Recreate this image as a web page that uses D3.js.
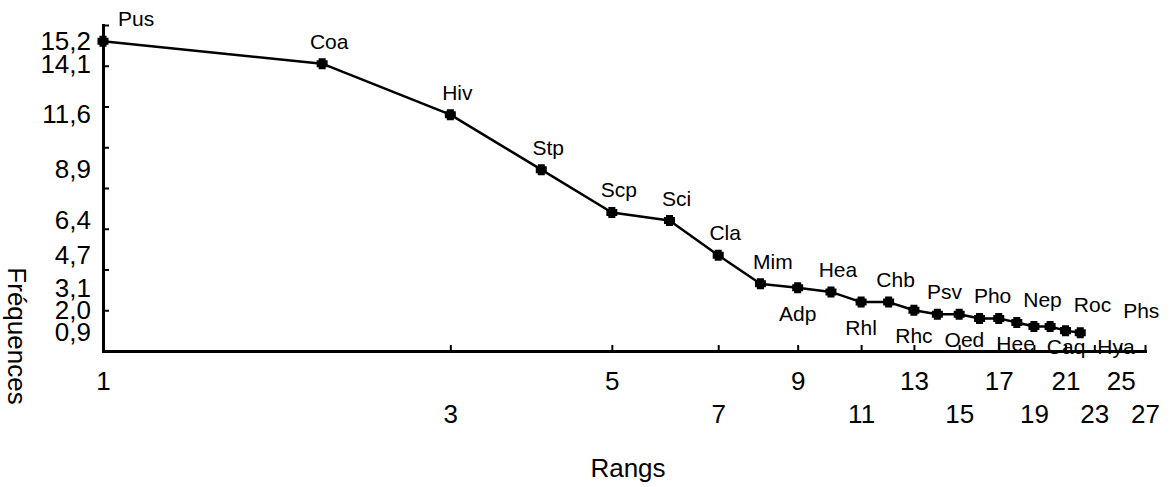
<!DOCTYPE html>
<html>
<head>
<meta charset="utf-8">
<script src="https://cdn.jsdelivr.net/npm/d3@7"></script>
<style>
html,body{margin:0;padding:0;background:#fff;}
svg{display:block;font-family:"Liberation Sans",Arial,Helvetica,sans-serif;}
</style>
</head>
<body>
<svg id="chart" width="1176" height="487"></svg>
<script>
// ---- data ----
const ranks = [1,2,3,4,5,6,7,8,9,10,11,12,13,14,15,16,17,18,19,20,21,22];
const freqs = [15.2,14.1,11.6,8.9,6.8,6.4,4.7,3.3,3.1,2.9,2.4,2.4,2.0,1.8,1.8,1.6,1.6,1.4,1.2,1.2,1.0,0.9];
const names = ["Pus","Coa","Hiv","Stp","Scp","Sci","Cla","Mim","Adp","Hea","Rhl","Chb","Rhc","Psv","Oed","Pho","Hee","Nep","Caq","Roc","Hya","Phs"];
const xTickValues = [1,3,5,7,9,11,13,15,17,19,21,23,25,27];
const yTickValues = [0,2,4,6,8,10,12,14,16];
const yLabelValues = [15.2,14.1,11.6,8.9,6.4,4.7,3.1,2.0,0.9];
const xTitle = "Rangs";
const yTitle = "Fréquences";

// ---- layout ----
const plot = {left:103, right:1145, top:25, bottom:351};
const x = d3.scaleLog().domain([1,27]).range([plot.left, plot.right]);
const y = d3.scaleLinear().domain([0,16]).range([plot.bottom, plot.top]);
const svg = d3.select("#chart");
const fr = d3.formatLocale({decimal:",", thousands:" ", grouping:[3], currency:["","\u20ac"]});
const f1 = fr.format(".1f");

// y axis (tick marks inside)
const gy = svg.append("g").attr("transform",`translate(${plot.left},0)`)
  .call(d3.axisLeft(y).tickValues(yTickValues).tickSize(-6).tickSizeOuter(0).tickFormat(""));
gy.select(".domain").attr("stroke-width",3).attr("stroke-linecap","square");
gy.selectAll(".tick line").attr("stroke-width",2);

// y labels at selected frequencies
const gyl = svg.append("g").attr("transform",`translate(${plot.left},0)`)
  .call(d3.axisLeft(y).tickValues(yLabelValues).tickSize(0).tickPadding(12).tickFormat(f1));
gyl.attr("font-family",null).attr("font-size",26);
gyl.select(".domain").remove();
gyl.selectAll(".tick text").attr("fill","#000");

// x axis
const gx = svg.append("g").attr("transform",`translate(0,${plot.bottom})`)
  .call(d3.axisBottom(x).tickValues(xTickValues).tickSize(-6).tickSizeOuter(0).tickPadding(0).tickFormat(d3.format("d")));
gx.attr("font-family",null).attr("font-size",26);
gx.select(".domain").attr("stroke-width",3).attr("stroke-linecap","square");
gx.selectAll(".tick line").attr("stroke-width",2);
gx.selectAll(".tick text").attr("fill","#000").attr("y",(d,i)=> i%2 ? 54 : 21).attr("dy","0.71em");

// data line
const pts = ranks.map((r,i)=>({r, f:freqs[i], name:names[i]}));
svg.append("path").datum(pts)
  .attr("d", d3.line().x(d=>x(d.r)).y(d=>y(d.f)))
  .attr("fill","none").attr("stroke","#000").attr("stroke-width",2.5).attr("stroke-linejoin","round");

// markers (fat cross)
const fatCross = { draw(ctx, size){
  const a = Math.sqrt(size)/2, b = a*0.64;
  ctx.moveTo(-b,-a); ctx.lineTo(b,-a); ctx.lineTo(b,-b); ctx.lineTo(a,-b);
  ctx.lineTo(a,b); ctx.lineTo(b,b); ctx.lineTo(b,a); ctx.lineTo(-b,a);
  ctx.lineTo(-b,b); ctx.lineTo(-a,b); ctx.lineTo(-a,-b); ctx.lineTo(-b,-b); ctx.closePath();
}};
svg.append("g").selectAll("path").data(pts).join("path")
  .attr("d", d3.symbol(fatCross, 121))
  .attr("transform", d=>`translate(${x(d.r)},${y(d.f)})`)
  .attr("fill","#000");

// point labels: first ones above, then alternating below/above, pushed right to avoid overlap
const above = d => d.r <= 8 || d.r % 2 === 0;
const lbl = svg.append("g").attr("font-size",21).selectAll("text").data(pts).join("text")
  .attr("text-anchor","middle").attr("fill","#000").text(d=>d.name)
  .attr("y", d => above(d) ? y(d.f) - 15 : Math.min(y(d.f) + 33, plot.bottom + 3));
const lastRight = {up:-Infinity, down:-Infinity};
lbl.each(function(d){
  const w = this.getComputedTextLength();
  const up = above(d);
  const side = up ? "up" : "down";
  const cx = Math.max(x(d.r) + (up ? 7 : 0), lastRight[side] + 12 + w/2, plot.left + 15 + w/2);
  lastRight[side] = cx + w/2;
  d3.select(this).attr("x", cx);
});

// axis titles
svg.append("text").attr("x", (plot.left+plot.right)/2 + 4).attr("y", 477)
  .attr("text-anchor","middle").attr("font-size",26).attr("fill","#000").text(xTitle);
svg.append("text").attr("transform",`translate(8,${(plot.top+plot.bottom)/2 + 148}) rotate(90)`)
  .attr("text-anchor","middle").attr("font-size",26).attr("fill","#000").text(yTitle);
</script>
</body>
</html>
